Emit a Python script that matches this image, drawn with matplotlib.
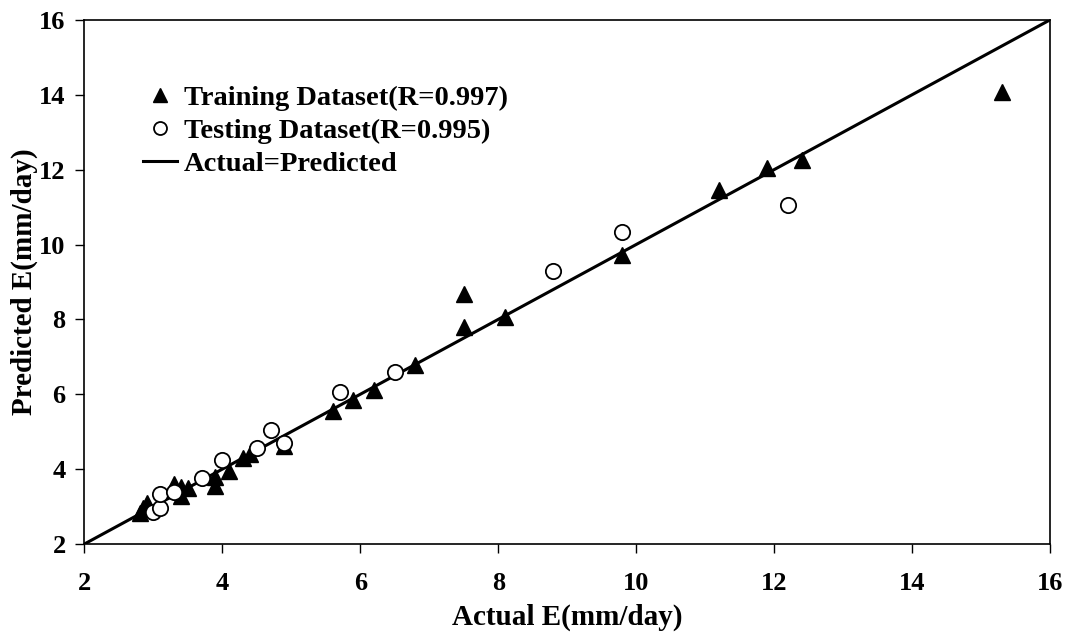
import matplotlib
matplotlib.use('Agg')
import matplotlib.pyplot as plt

# values
train_x = [2.8, 2.85, 2.9, 3.3, 3.4, 3.4, 3.5, 3.9, 3.9, 4.1, 4.3, 4.4, 4.9,
           5.6, 5.9, 6.2, 6.8, 7.5, 7.5, 8.1, 9.8, 11.2, 11.9, 12.4, 15.3]
train_y = [2.82, 2.95, 3.1, 3.6, 3.27, 3.53, 3.49, 3.55, 3.8, 3.96, 4.29, 4.40, 4.62,
           5.56, 5.85, 6.11, 6.78, 7.81, 8.68, 8.06, 9.72, 11.46, 12.05, 12.26, 14.08]

test_x = [3.0, 3.1, 3.1, 3.3, 3.7, 4.0, 4.5, 4.7, 4.9, 5.7, 6.5, 8.8, 9.8, 12.2]
test_y = [2.86, 2.95, 3.33, 3.40, 3.76, 4.24, 4.56, 5.05, 4.69, 6.07, 6.59, 9.30, 10.33, 11.06]

line_xy = [2, 16]
ticks = [2, 4, 6, 8, 10, 12, 14, 16]

plt.rcParams['font.family'] = ['Liberation Serif', 'DejaVu Serif']
plt.rcParams['font.weight'] = 'bold'

fig = plt.figure(figsize=(10.68, 6.34), dpi=100)
ax = fig.add_axes([0.0791, 0.142, 0.9039, 0.8265])

ax.plot(line_xy, line_xy, color='black', lw=2.2, zorder=2, label='Actual=Predicted')
ax.plot(train_x, train_y, linestyle='none', marker='^', ms=11.5, color='black',
        zorder=3, label='Training Dataset(R=0.997)')
ax.plot(test_x, test_y, linestyle='none', marker='o', ms=11, mfc='white', mec='black',
        mew=1.3, zorder=4, label='Testing Dataset(R=0.995)')

ax.set_xlim(2, 16)
ax.set_ylim(2, 16)
ax.set_xticks(ticks)
ax.set_yticks(ticks)
ax.tick_params(direction='out', length=6.5, width=1, labelsize=19)
ax.tick_params(axis='y', pad=7)
ax.tick_params(axis='x', pad=14)
for lab in ax.get_xticklabels() + ax.get_yticklabels():
    lab.set_fontweight('bold')
for sp in ax.spines.values():
    sp.set_linewidth(1.2)

ax.set_xlabel('Actual E(mm/day)', fontsize=21, fontweight='bold', labelpad=6)
ax.set_ylabel('Predicted E(mm/day)', fontsize=21, fontweight='bold', labelpad=1)

h, l = ax.get_legend_handles_labels()
order = [1, 2, 0]
leg = ax.legend([h[i] for i in order], [l[i] for i in order], loc='upper left',
                bbox_to_anchor=(0.034, 0.925), frameon=False,
                handlelength=1.2, handletextpad=0.25, labelspacing=0.25,
                markerscale=0.85, prop={'weight': 'bold', 'size': 20.5})

fig.savefig('out.png', dpi=100)
